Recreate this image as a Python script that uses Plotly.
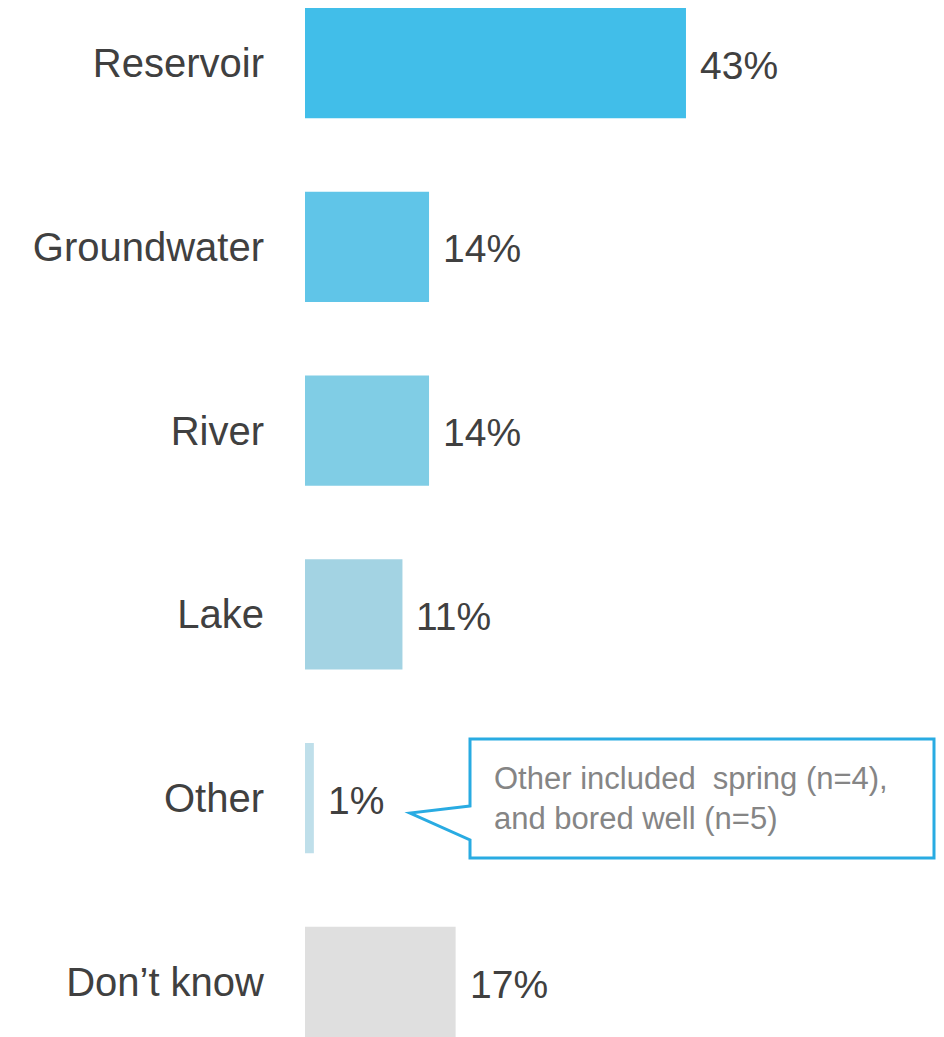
import plotly.graph_objects as go

categories = ["Reservoir", "Groundwater", "River", "Lake", "Other", "Don\u2019t know"]
values = [43, 14, 14, 11, 1, 17]
value_labels = ["43%", "14%", "14%", "11%", "1%", "17%"]
bar_colors = ["#41BEE9", "#60C5E8", "#80CDE5", "#A3D3E3", "#BFDFEA", "#DFDFDF"]
callout_text = "Other included  spring (n=4),<br>and bored well (n=5)"

OFF = 8  # page body margin
W, H = 944 - OFF, 1037 - OFF
left = 305 - OFF
px_per_unit = 8.86
x_max = (W - left) / px_per_unit

slot = 183.8
first_center = 63 - OFF
y_top = -first_center / slot
y_bottom = y_top + H / slot

fig = go.Figure()
fig.add_trace(go.Bar(
    x=values, y=categories, orientation="h",
    marker=dict(color=bar_colors, line=dict(width=0)),
    width=0.6, hoverinfo="skip",
))

for c, v, t in zip(categories, values, value_labels):
    fig.add_annotation(x=v, y=c, xref="x", yref="y", text=t, showarrow=False,
                       xanchor="left", yanchor="middle", xshift=12, yshift=-2,
                       font=dict(family="Liberation Sans, Arial", size=39, color="#404040"))

def px2x(p):
    return (p - 305) / px_per_unit

def py2p(p):
    return 1 - (p - OFF) / H

bl, br, bt, bb = px2x(470), px2x(934), py2p(739), py2p(858)
tipx, tipy = px2x(410), py2p(813)
jt, jb = py2p(806), py2p(840)
path = (f"M {bl},{jt} L {tipx},{tipy} L {bl},{jb} L {bl},{bb} L {br},{bb} "
        f"L {br},{bt} L {bl},{bt} Z")
fig.add_shape(type="path", path=path, xref="x", yref="paper",
              fillcolor="white", line=dict(color="#29ABE2", width=3), layer="above")
fig.add_annotation(x=px2x(492), y=py2p(798), xref="x", yref="paper",
                   text=callout_text, showarrow=False, xanchor="left", yanchor="middle",
                   align="left",
                   font=dict(family="Liberation Sans, Arial", size=31, color="#858585"))

fig.update_layout(
    width=W, height=H,
    margin=dict(l=left, r=0, t=0, b=0),
    plot_bgcolor="white", paper_bgcolor="white",
    showlegend=False,
    bargap=0.4,
    xaxis=dict(range=[0, x_max], visible=False, fixedrange=True),
    yaxis=dict(range=[y_bottom, y_top], type="category", showgrid=False,
               zeroline=False, showline=False, ticks="", ticklabelstandoff=40,
               tickfont=dict(family="Liberation Sans, Arial", size=40, color="#404040")),
)

fig.write_html("out.html")
